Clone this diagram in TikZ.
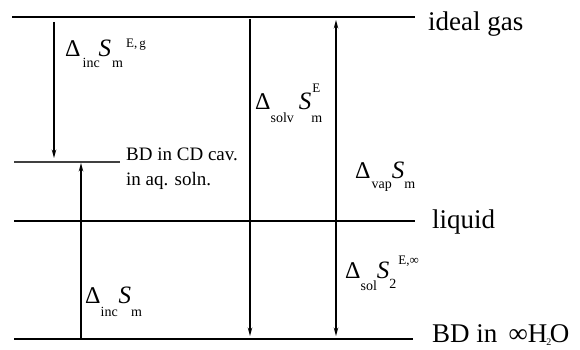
\documentclass[tikz,border=0pt]{standalone}
\usepackage{fontspec}
\setmainfont{Liberation Serif}
\usetikzlibrary{arrows.meta}
\newcommand{\lbig}[1]{{\fontsize{24}{24}\selectfont #1}}
\newcommand{\lsv}[1]{{\fontsize{25}{25}\selectfont\itshape #1}}
\newcommand{\lsb}[2][-12pt]{\raisebox{#1}{\fontsize{14}{14}\selectfont #2}}
\newcommand{\lsp}[2]{\raisebox{#1}{\fontsize{13}{13}\selectfont #2}}
\begin{document}
\begin{tikzpicture}[x=1pt,y=-1pt,
  level/.style={line width=1.4pt},
  arr/.style={line width=1.1pt,-{Stealth[length=8.5pt,width=4.5pt]}},
  big/.style={font=\fontsize{27}{27}\selectfont, inner sep=0pt, anchor=base west},
  small/.style={font=\fontsize{19}{25}\selectfont, inner sep=0pt, anchor=base west, align=left},
  lab/.style={inner sep=0pt, anchor=base west}]
\useasboundingbox (0,0) rectangle (580,350);
% level end points
\coordinate (g1) at (12,17);  \coordinate (g2) at (415,17);
\coordinate (c1) at (14,162); \coordinate (c2) at (120,162);
\coordinate (l1) at (14,221); \coordinate (l2) at (415,221);
\coordinate (b1) at (14,339); \coordinate (b2) at (413,339);
\draw[level] (g1) -- (g2);
\draw[level, black!75, line width=1.2pt] (c1) -- (c2);
\draw[level] (l1) -- (l2);
\draw[level] (b1) -- (b2);
% level labels
\node[big] (tgas) at (428,31) {ideal gas};
\node[big] (tliq) at (432,228) {liquid};
\node[big] (tbd) at (432,342) {BD in \,∞H\kern-1pt\raisebox{-3pt}{\fontsize{10}{10}\selectfont 2}\kern-1.5ptO};
\node[small] (tcav) at (126,160) {BD in CD cav.};
\node[small] (tsoln) at (126,185) {in aq. soln.};
% arrow end points
\coordinate (a1s) at (54,22);  \coordinate (a1e) at (54,158);
\coordinate (a2s) at (81,339); \coordinate (a2e) at (81,163);
\coordinate (a3s) at (250,19); \coordinate (a3e) at (250,336);
\coordinate (a4s) at (336,221); \coordinate (a4e) at (336,20);
\coordinate (a5s) at (336,221); \coordinate (a5e) at (336,336);
\draw[arr] (a1s) -- (a1e);
\draw[arr] (a2s) -- (a2e);
\draw[arr] (a3s) -- (a3e);
\draw[arr] (a4s) -- (a4e);
\draw[arr] (a5s) -- (a5e);
% arrow labels
\node[lab] (L1) at (65,57) {\lbig{Δ}\hspace{2pt}\lsb[-11pt]{inc}\hspace{-1pt}\lsv{S}\hspace{1pt}\lsb[-11pt]{m}\hspace{3pt}\lsp{9pt}{E,\,g}};
\node[lab] (L2) at (255,110) {\lbig{Δ}\lsb[-13pt]{solv}\hspace{5pt}\lsv{S}\rlap{\hspace{1pt}\lsp{17pt}{E}}\lsb[-13pt]{m}};
\node[lab] (L3) at (355,178) {\lbig{Δ}\hspace{1pt}\lsb[-10pt]{vap}\lsv{S}\lsb[-10pt]{m}};
\node[lab] (L4) at (85,303) {\lbig{Δ}\lsb[-13pt]{inc}\hspace{1pt}\lsv{S}\lsb[-13pt]{m}};
\node[lab] (L5) at (345,278) {\lbig{Δ}\lsb[-12pt]{sol}\lsv{S}\lsb[-10pt]{2}\hspace{2pt}\lsp{14pt}{E,∞}};
\end{tikzpicture}
\end{document}
